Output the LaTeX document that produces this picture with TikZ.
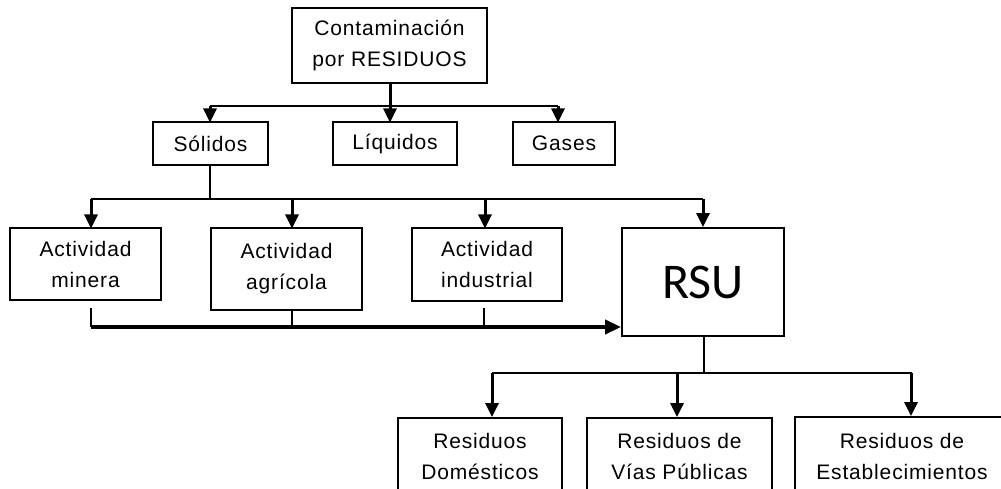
\documentclass[tikz,border=0pt]{standalone}
\usepackage{fontspec}
\setmainfont{Liberation Sans}[LetterSpace=4]
\newfontfamily\rsufont{Carlito}
\usetikzlibrary{arrows.meta}

\begin{document}
\begin{tikzpicture}[x=1pt,y=-1pt,
  box/.style={draw, line width=1.8pt, align=center, inner sep=0pt,
    font=\fontsize{21}{31}\selectfont},
  feed/.style={line width=2pt},
  stub/.style={line width=1.6pt},
  arr/.style={line width=3pt, -{Triangle[width=13pt,length=14pt]}},
  mainarr/.style={line width=3.8pt, -{Triangle[width=14pt,length=16pt]}}]
\useasboundingbox (0,0) rectangle (1001,489);
\clip (0,0) rectangle (1001,489);

% top node
\node[box, minimum width=195pt, minimum height=75pt] (top) at (389.5,45.5)
  {Contaminación\\por RESIDUOS};

% first level
\node[box, minimum width=115pt, minimum height=43pt] (sol) at (210.5,143.5) {Sólidos};
\node[box, minimum width=124pt, minimum height=43pt] (liq) at (395,143.5) {Líquidos};
\node[box, minimum width=102pt, minimum height=43pt] (gas) at (564,143.5) {Gases};

\coordinate (j1) at (390,106);
\draw[line width=3pt] (top.south -| j1) -- (j1);
\draw[feed] (210,106) -- (558,106);
\draw[arr] (210,106) -- (210,122.5);
\draw[arr] (j1) -- (390,122.5);
\draw[arr] (558,106) -- (558,122.5);

% second level
\node[box, minimum width=151pt, minimum height=72pt] (min) at (85.5,264) {Actividad\\minera};
\node[box, minimum width=151pt, minimum height=82pt] (agr) at (286.5,269) {Actividad\\agrícola};
\node[box, minimum width=150pt, minimum height=73pt] (ind) at (487,264.5) {Actividad\\industrial};
\node[draw, line width=1.8pt, minimum width=162pt, minimum height=108pt, inner sep=0pt,
  font=\rsufont\fontsize{50}{60}\selectfont] (rsu) at (703,282) {RSU};

\coordinate (j2) at (210,199);
\draw[stub] (sol.south -| j2) -- (j2);
\draw[feed] (91,199) -- (703,199);
\draw[arr] (91,199) -- (91,228.5);
\draw[arr] (292,199) -- (292,228.5);
\draw[arr] (485,199) -- (485,228.5);
\draw[arr] (703,199) -- (rsu.north -| 703,0);

% collector into RSU
\coordinate (c1) at (91,327);
\coordinate (c2) at (292,327);
\coordinate (c3) at (484,327);
\draw[stub] ([yshift=-7pt]min.south -| c1) -- (c1);
\draw[stub] (agr.south -| c2) -- (c2);
\draw[stub] ([yshift=-6pt]ind.south -| c3) -- (c3);
\draw[mainarr] (c1) -- (rsu.west |- c1);

% third level
\node[box, minimum width=164pt, minimum height=76pt] (dom) at (480,456) {Residuos\\Domésticos};
\node[box, minimum width=185pt, minimum height=76pt] (via) at (679.5,456) {Residuos de\\Vías Públicas};
\node[box, minimum width=214pt, minimum height=78pt] (est) at (902,456) {Residuos de\\Establecimientos};

\coordinate (j3) at (704,373);
\draw[stub] (rsu.south -| j3) -- (j3);
\draw[feed] (492,373) -- (912,373);
\draw[arr] (492,373) -- (dom.north -| 492,0);
\draw[arr] (677,373) -- (via.north -| 677,0);
\draw[arr] (911,373) -- (est.north -| 911,0);
\end{tikzpicture}
\end{document}
